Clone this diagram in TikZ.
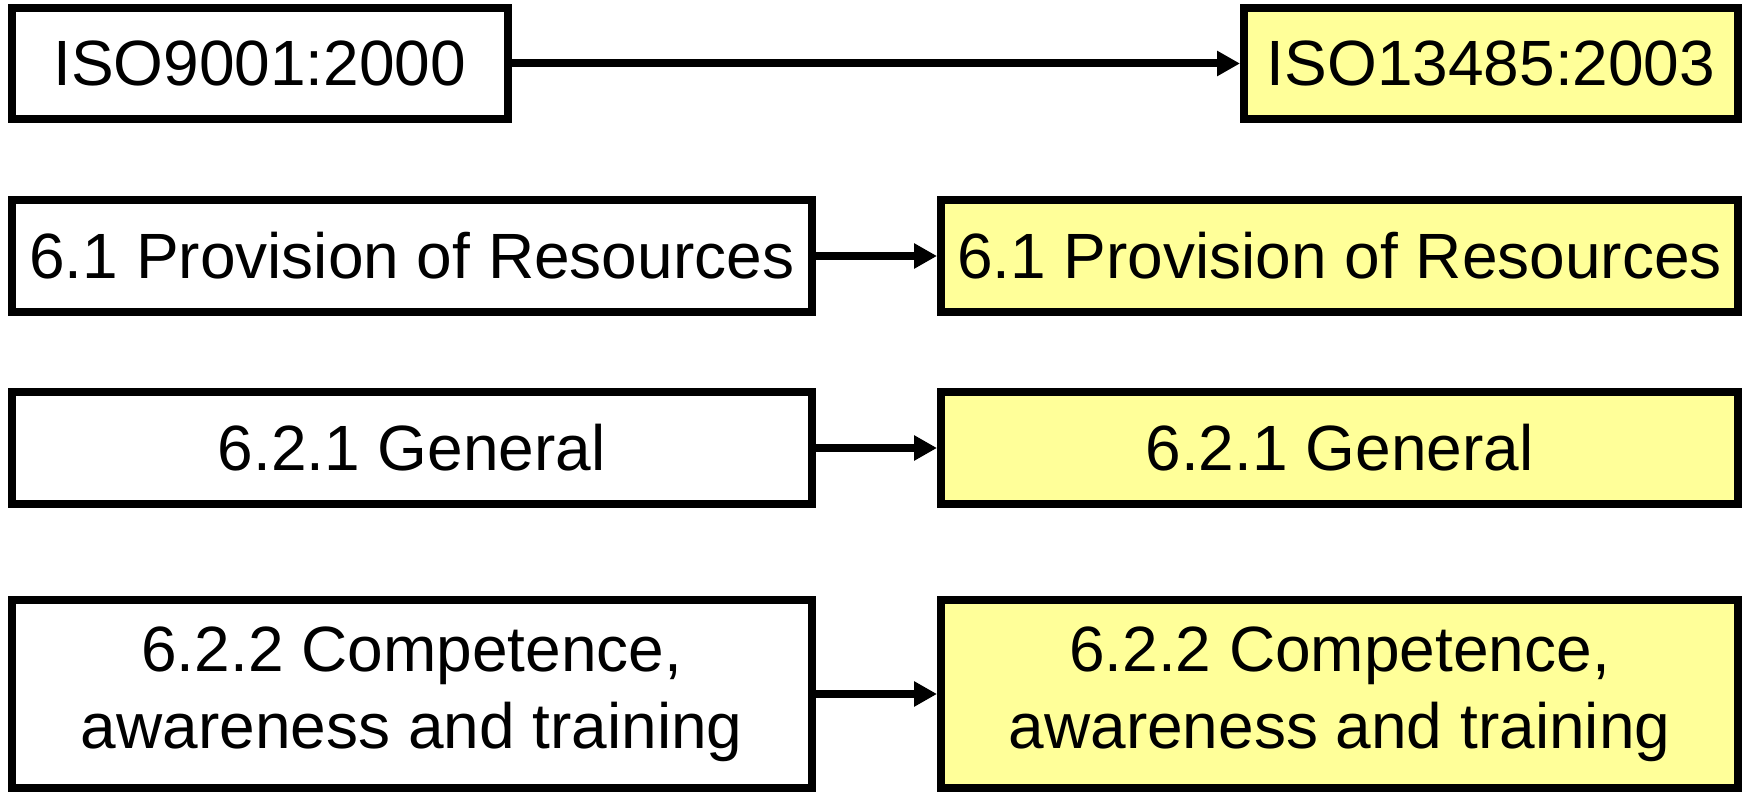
\documentclass[tikz,border=0pt]{standalone}
\usepackage{fontspec}
\setmainfont{Liberation Sans}
\usepackage{tikz}
\usetikzlibrary{arrows.meta}
\definecolor{paleyellow}{RGB}{255,255,153}

\tikzset{
	box/.style={draw=black, line width=4pt, fill=white, inner sep=0pt, align=center,
		font=\fontsize{32pt}{38.5pt}\selectfont},
	ybox/.style={box, fill=paleyellow},
	arr/.style={line width=4pt, -{Triangle[length=11.5pt,width=12pt]}}
}

\begin{document}
\begin{tikzpicture}[x=0.5pt, y=-0.5pt]

					\useasboundingbox (0,0) rectangle (1748,792);

					\node[box, minimum width=248.25pt, minimum height=55.5pt] (iso9) at (259.75,63.5) {ISO9001:2000};
					\node[ybox, minimum width=247pt, minimum height=55.5pt] (iso13) at (1491,63.5) {ISO13485:2003};

					\node[box, minimum width=400.25pt, minimum height=56pt] (res) at (411.75,256) {6.1 Provision of Resources};
					\node[ybox, minimum width=398.5pt, minimum height=56pt] (yres) at (1339.5,256) {6.1 Provision of Resources};

					\node[box, minimum width=400.25pt, minimum height=56pt] (gen) at (411.75,448) {6.2.1 General};
					\node[ybox, minimum width=398.5pt, minimum height=56pt] (ygen) at (1339.5,448) {6.2.1 General};

					\node[box, minimum width=400.25pt, minimum height=94pt] (comp) at (411.75,694) {6.2.2 Competence,\\awareness and training};
					\node[ybox, minimum width=398.5pt, minimum height=94pt] (ycomp) at (1339.5,694) {6.2.2 Competence,\\awareness and training};

					\draw[arr] (iso9) -- (iso13);
					\draw[arr] (res) -- (yres);
					\draw[arr] (gen) -- (ygen);
					\draw[arr] (comp) -- (ycomp);

				\end{tikzpicture}
\end{document}
